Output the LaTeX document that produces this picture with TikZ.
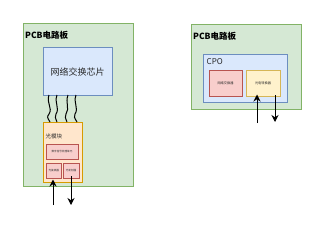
\documentclass[tikz,border=0pt]{standalone}
\usepackage{fontspec}
\newfontfamily\cjk{Noto Sans CJK SC}
\usetikzlibrary{arrows.meta}
\begin{document}
\begin{tikzpicture}[x=1pt,y=-1pt,
  board/.style={draw={rgb,255:red,130;green,179;blue,102}, fill={rgb,255:red,213;green,232;blue,212}, line width=0.6pt},
  bluebox/.style={draw={rgb,255:red,108;green,142;blue,191}, fill={rgb,255:red,218;green,232;blue,252}, line width=0.6pt},
  orangebox/.style={draw={rgb,255:red,215;green,155;blue,0}, fill={rgb,255:red,255;green,230;blue,204}, line width=0.6pt},
  redbox/.style={draw={rgb,255:red,184;green,84;blue,80}, fill={rgb,255:red,248;green,206;blue,204}, line width=0.6pt},
  yellowbox/.style={draw={rgb,255:red,214;green,182;blue,86}, fill={rgb,255:red,255;green,242;blue,204}, line width=0.6pt},
  lbl/.style={font=\cjk, text={rgb,255:red,40;green,40;blue,40}, inner sep=0pt},
  arr/.style={-{Stealth[length=7pt,width=7pt]}, line width=1pt},
  wire/.style={line width=1pt}]
\useasboundingbox (0,0) rectangle (332,225);
\fill[white] (0,0) rectangle (332,225);
% left board
\draw[board] (23,23) rectangle (133,186);
\node[lbl, text=black, anchor=west, font=\cjk\bfseries\fontsize{8.5}{9}\selectfont] (t1) at (25,35.5) {PCB电路板};
\draw[bluebox] (43,47) rectangle (112,95);
\node[lbl, font=\cjk\fontsize{9}{10}\selectfont] (chip) at (77.5,72) {网络交换芯片};
\draw[orangebox] (43,122) rectangle (82,182);
\node[lbl, anchor=west, font=\cjk\fontsize{5.5}{6}\selectfont] (om) at (45.5,136) {光模块};
\draw[redbox] (46,144) rectangle (78,159);
\node[lbl, font=\cjk\fontsize{2.6}{3}\selectfont] (dsp) at (62,151.5) {数字信号处理单元};
\draw[redbox] (46,163) rectangle (61.5,178);
\node[lbl, font=\cjk\fontsize{2.6}{3}\selectfont] (rx) at (53.75,170.5) {光接收器};
\draw[redbox] (63,163) rectangle (79,178);
\node[lbl, font=\cjk\fontsize{2.6}{3}\selectfont] (tx) at (71,170.5) {光发射器};
% wavy wires
\coordinate (w1a) at (49,95); \coordinate (w1b) at (50,122);
\coordinate (w2a) at (57,95); \coordinate (w2b) at (57,122);
\coordinate (w3a) at (68,95); \coordinate (w3b) at (67,122);
\coordinate (w4a) at (76,95); \coordinate (w4b) at (77,122);
\draw[wire] (w1a) .. controls (46,103) and (53,108) .. (49,114) .. controls (47,117) .. (w1b);
\draw[wire] (w2a) .. controls (54,103) and (60,108) .. (56,114) .. controls (55,117) .. (w2b);
\draw[wire] (w3a) .. controls (65,103) and (70,108) .. (66,114) .. controls (65,117) .. (w3b);
\draw[wire] (w4a) .. controls (73,103) and (79,108) .. (75,114) .. controls (74,117) .. (w4b);
% arrows left
\coordinate (a1s) at (53,205); \coordinate (a1e) at (53,179.5);
\coordinate (a2s) at (71,176); \coordinate (a2e) at (71,205);
\draw[arr] (a1s) -- (a1e);
\draw[arr] (a2s) -- (a2e);
% right board
\draw[board] (191,24) rectangle (301,109);
\node[lbl, text=black, anchor=west, font=\cjk\bfseries\fontsize{8.5}{9}\selectfont] (t2) at (193,36.5) {PCB电路板};
\draw[bluebox] (203,54) rectangle (287,102);
\node[lbl, anchor=west, font=\cjk\fontsize{8}{9}\selectfont] (cpo) at (206.5,62) {CPO};
\draw[redbox] (209,70) rectangle (242,96);
\node[lbl, font=\cjk\fontsize{3.2}{3.5}\selectfont] (sw) at (225.5,83) {网络交换器};
\draw[yellowbox] (246,70) rectangle (280,96);
\node[lbl, font=\cjk\fontsize{3.2}{3.5}\selectfont] (oe) at (263,83) {光电转换器};
\coordinate (b1s) at (257,123); \coordinate (b1e) at (257,94.5);
\coordinate (b2s) at (275,95); \coordinate (b2e) at (275,122);
\draw[arr] (b1s) -- (b1e);
\draw[arr] (b2s) -- (b2e);
\end{tikzpicture}
\end{document}
